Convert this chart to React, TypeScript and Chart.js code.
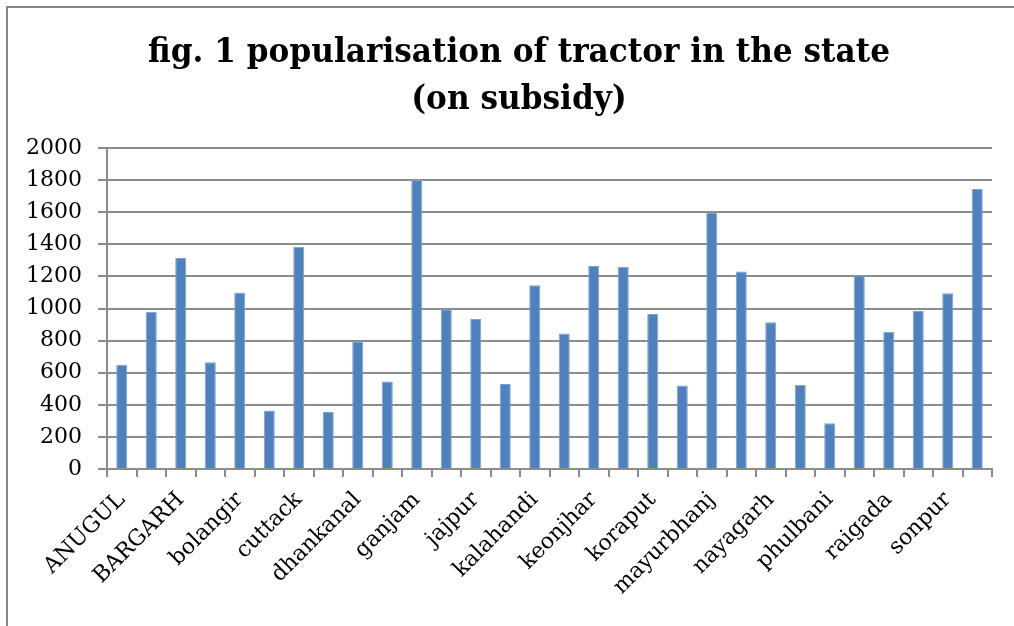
import React, { useEffect, useRef } from "react";
import { Chart, registerables } from "chart.js";

Chart.register(...registerables);

const titleLines = ["fig. 1 popularisation of tractor in the state", "(on subsidy)"];

const districts = [
  "ANUGUL", "balasore", "BARGARH", "bhadrak", "bolangir", "boudh", "cuttack", "deogarh",
  "dhankanal", "gajapati", "ganjam", "jagatsinghpur", "jajpur", "jharsuguda", "kalahandi",
  "kendrapara", "keonjhar", "khurda", "koraput", "malkangiri", "mayurbhanj", "nawarangpur",
  "nayagarh", "nuapada", "phulbani", "puri", "raigada", "sambalpur", "sonpur", "sundargarh",
];

const tractors = [
  650, 980, 1315, 665, 1100, 365, 1385, 355, 795, 545,
  1800, 995, 935, 530, 1145, 845, 1265, 1260, 965, 520,
  1600, 1230, 915, 525, 285, 1205, 855, 985, 1095, 1745,
];

const yTicks = [0, 200, 400, 600, 800, 1000, 1200, 1400, 1600, 1800, 2000];

const SERIF = '"DejaVu Serif", serif';

export default function App() {
  const ref = useRef<HTMLCanvasElement | null>(null);

  useEffect(() => {
    if (!ref.current) return;
    const titlePlugin = {
      id: "customTitle",
      afterDraw(chart: any) {
        const ctx = chart.ctx;
        ctx.save();
        ctx.fillStyle = "#000";
        ctx.font = 'bold 33px "DejaVu Serif", serif';
        ctx.textAlign = "center";
        ctx.textBaseline = "middle";
        const w0 = ctx.measureText(titleLines[0]).width;
        const sx = Math.min(1, 742 / w0);
        ctx.translate(519, 0);
        ctx.scale(sx, 1);
        ctx.fillText(titleLines[0], 0, 53);
        ctx.fillText(titleLines[1], 0, 100);
        ctx.restore();
      },
    };
    const chart = new Chart(ref.current, {
      type: "bar",
      data: {
        labels: districts,
        datasets: [
          {
            label: "tractors",
            data: tractors,
            backgroundColor: "#4F81BD",
            borderColor: "#7EA1CE",
            borderWidth: 1,
            categoryPercentage: 1,
            barPercentage: 0.375,
          },
        ],
      },
      options: {
        animation: false,
        responsive: false,
        maintainAspectRatio: false,
        layout: { padding: { top: 148, right: 22, left: 0, bottom: 0 } },
        plugins: {
          legend: { display: false },
          title: { display: false },
          tooltip: { enabled: false },
        },
        scales: {
          x: {
            afterFit: (s: any) => {
              s.height = 157;
            },
            border: { display: true, color: "#8c8c8c", width: 2 },
            grid: {
              display: true,
              drawOnChartArea: false,
              drawTicks: true,
              tickLength: 8,
              color: "#8c8c8c",
              lineWidth: 2,
              offset: true,
            },
            ticks: {
              autoSkip: false,
              maxRotation: 45,
              minRotation: 45,
              padding: 10,
              color: "#000",
              font: { family: SERIF, size: 22 },
              callback: (_v: any, i: number) => (i % 2 === 0 ? districts[i] : ""),
            },
          },
          y: {
            min: 0,
            max: 2000,
            afterFit: (s: any) => {
              s.width = 107;
            },
            afterBuildTicks: (s: any) => {
              s.ticks = yTicks.map((v) => ({ value: v }));
            },
            border: { display: true, color: "#8c8c8c", width: 2 },
            grid: {
              color: "#8c8c8c",
              lineWidth: 2,
              tickLength: 9,
              drawTicks: true,
            },
            ticks: {
              padding: 16,
              color: "#000",
              font: { family: SERIF, size: 22 },
              callback: (v: any) => String(v),
            },
          },
        },
      },
      plugins: [titlePlugin],
    });
    return () => chart.destroy();
  }, []);

  return (
    <div
      style={{
        position: "fixed",
        left: 0,
        top: 0,
        width: 1014,
        height: 626,
        overflow: "hidden",
        background: "#fff",
      }}
    >
      <div
        style={{
          position: "absolute",
          left: 6,
          top: 6,
          width: 1100,
          height: 700,
          borderLeft: "2px solid #858585",
          borderTop: "2px solid #858585",
        }}
      />
      <canvas ref={ref} width={1014} height={626} style={{ position: "absolute", left: 0, top: 0 }} />
    </div>
  );
}
